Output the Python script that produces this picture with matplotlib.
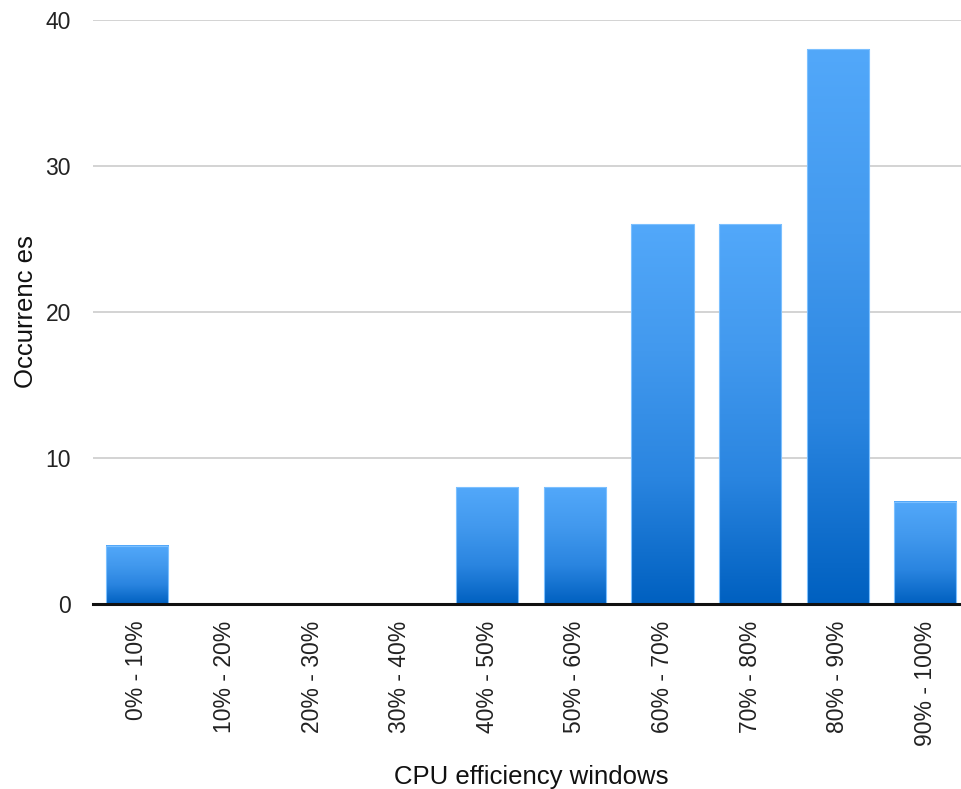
import matplotlib
matplotlib.use("Agg")
import matplotlib.pyplot as plt
import numpy as np
from matplotlib.colors import LinearSegmentedColormap
from matplotlib.patches import Rectangle

categories = ["0% - 10%", "10% - 20%", "20% - 30%", "30% - 40%", "40% - 50%",
              "50% - 60%", "60% - 70%", "70% - 80%", "80% - 90%", "90% - 100%"]
occurrences = [4, 0, 0, 0, 8, 8, 26, 26, 38, 7]

plt.rcParams['font.family'] = ['Liberation Sans', 'DejaVu Sans']

fig = plt.figure(figsize=(9.62, 7.89), dpi=100)
ax = fig.add_axes([0.0967, 0.2345, 0.9106, 0.740])

# light at the top of each bar, dark at the base
grad = LinearSegmentedColormap.from_list(
    "bar", ["#0060c0", "#2a85e0", "#4299ee", "#52a8fa"])
ramp = np.linspace(0, 1, 256).reshape(-1, 1)
width = 0.71

for i, v in enumerate(occurrences):
    if v <= 0:
        continue
    x0 = i - width / 2
    ax.imshow(ramp, cmap=grad, origin="lower", aspect="auto",
              extent=[x0, x0 + width, 0, v], zorder=2, interpolation="bilinear")
    ax.add_patch(Rectangle((x0, 0), width, v, fill=False,
                           edgecolor="#7cc0ff", linewidth=0.8, zorder=3))

ax.set_xlim(-0.5, len(categories) - 0.5)
ax.set_ylim(0, 40)
ax.set_yticks([0, 10, 20, 30, 40])
ax.set_xticks(range(len(categories)))
ax.set_xticklabels(categories, rotation=90)
ax.tick_params(axis="both", length=0, labelsize=16.5, labelcolor="#222222")
ax.tick_params(axis="x", pad=12)
ax.tick_params(axis="y", pad=16)
ax.grid(axis="y", color="#cccccc", linewidth=1.2, zorder=0)
ax.set_axisbelow(True)
for s in ["top", "right", "left"]:
    ax.spines[s].set_visible(False)
ax.spines["bottom"].set_linewidth(2.2)
ax.spines["bottom"].set_color("#111111")
ax.spines["bottom"].set_zorder(4)

ax.set_xlabel("CPU efficiency windows", fontsize=18.5, color="#111111", labelpad=14)
ax.set_ylabel("Occurrenc es", fontsize=18.5, color="#111111")
ax.yaxis.set_label_coords(-0.063, 0.5)

fig.savefig("out.png", dpi=100)
